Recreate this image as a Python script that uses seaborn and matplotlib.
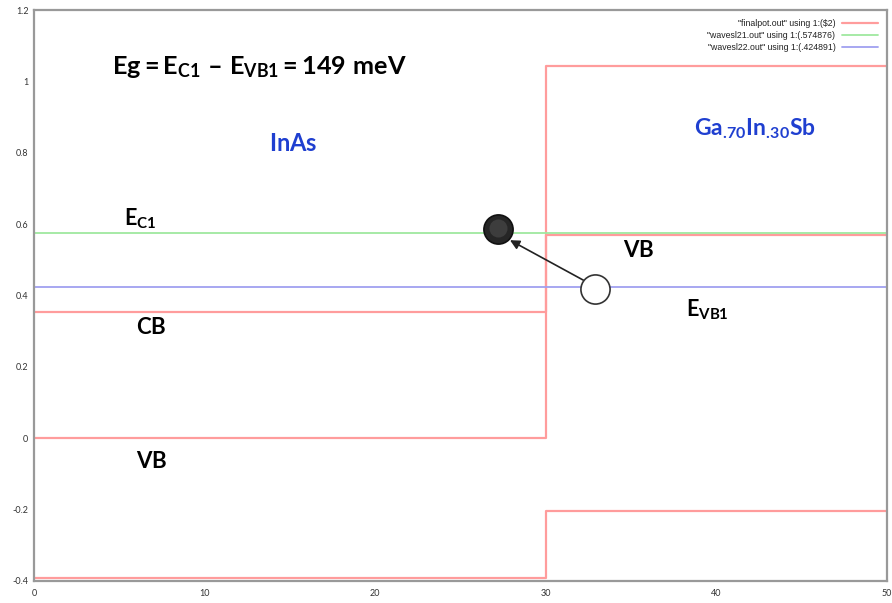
import numpy as np
import pandas as pd
import matplotlib
matplotlib.use("Agg")
import matplotlib.pyplot as plt
import seaborn as sns

# ---- data ----
pot_x = [0, 30, 30, 50, 0, 30, 30, 50, 0, 30, 30, 50]
pot_y = [0.355, 0.355, 1.042, 1.042, 0.0, 0.0, 0.57, 0.57, -0.392, -0.392, -0.205, -0.205]
pot_seg = [1, 1, 1, 1, 2, 2, 2, 2, 3, 3, 3, 3]
wave21_x = [0, 50]
wave21_y = [0.574876, 0.574876]
wave22_x = [0, 50]
wave22_y = [0.424891, 0.424891]
series_labels = ['"finalpot.out" using 1:($2)',
                 '"wavesl21.out" using 1:(.574876)',
                 '"wavesl22.out" using 1:(.424891)']
x_ticks = [0, 10, 20, 30, 40, 50]
y_ticks = [-0.4, -0.2, 0, 0.2, 0.4, 0.6, 0.8, 1, 1.2]
y_ticklabels = ["-0.4", "-0.2", "0", "0.2", "0.4", "0.6", "0.8", "1", "1.2"]
electron_xy = (27.2, 0.585)
hole_xy = (32.9, 0.417)

sns.set_theme(style="white")
plt.rcParams['font.family'] = ['Lato', 'DejaVu Sans']
plt.rcParams['mathtext.fontset'] = 'custom'
plt.rcParams['mathtext.rm'] = 'Lato:bold'
plt.rcParams['mathtext.bf'] = 'Lato:bold'
plt.rcParams['mathtext.it'] = 'Lato:bold'
plt.rcParams['mathtext.default'] = 'bf'

fig = plt.figure(figsize=(8.92, 6.03), dpi=100)
ax = fig.add_axes([34/892, 22/603, 853/892, 571/603])

pot_df = pd.DataFrame({"x": pot_x, "y": pot_y, "seg": pot_seg})
sns.lineplot(data=pot_df, x="x", y="y", units="seg", estimator=None, sort=False,
             color="#ff9c9c", lw=1.6, ax=ax, label=series_labels[0])
sns.lineplot(x=wave21_x, y=wave21_y, color="#9fe89f", lw=1.3, ax=ax, label=series_labels[1])
sns.lineplot(x=wave22_x, y=wave22_y, color="#a0a0f0", lw=1.3, ax=ax, label=series_labels[2])

ax.set_xlim(0, 50)
ax.set_ylim(-0.4, 1.2)
ax.set_xticks(x_ticks)
ax.set_xticklabels([str(t) for t in x_ticks])
ax.set_yticks(y_ticks)
ax.set_yticklabels(y_ticklabels)
ax.set_xlabel("")
ax.set_ylabel("")
ax.tick_params(axis="both", direction="in", length=4, width=0.8, color="#777777",
               labelsize=6.5, labelcolor="#333333", pad=4)
ax.tick_params(axis="x", pad=6)
for s in ax.spines.values():
    s.set_color("#999999")
    s.set_linewidth(1.6)

handles, labels = ax.get_legend_handles_labels()
uh, ul = [], []
for h, l in zip(handles, labels):
    if l not in ul:
        uh.append(h)
        ul.append(l)
leg = ax.legend(uh, ul, loc="upper right", frameon=False, markerfirst=False, fontsize=6.3,
                handlelength=4.2, handletextpad=0.7, labelspacing=0.35,
                borderaxespad=0.3, bbox_to_anchor=(0.997, 0.995))
for t in leg.get_texts():
    t.set_color("#222222")
    t.set_family(["Liberation Sans", "DejaVu Sans"])

# annotations
ax.text(4.6, 1.04, "$Eg=E_{C1}\\ \u2013\\ E_{VB1}=149\\ meV$", fontsize=18.2,
        color="black", va="center", ha="left")
ax.text(13.8, 0.825, r"$InAs$", fontsize=17, color="#1f3fd0", va="center", ha="left")
ax.text(38.7, 0.866, r"$Ga_{.\!70}In_{.\!30}Sb$", fontsize=16.5, color="#1f3fd0",
        va="center", ha="left")
ax.text(5.3, 0.615, r"$E_{C1}$", fontsize=15.5, color="black", va="center", ha="left")
ax.text(6.0, 0.31, r"$CB$", fontsize=16, color="black", va="center", ha="left")
ax.text(6.0, -0.065, r"$VB$", fontsize=16, color="black", va="center", ha="left")
ax.text(34.5, 0.525, r"$VB$", fontsize=16, color="black", va="center", ha="left")
ax.text(38.2, 0.36, r"$E_{VB1}$", fontsize=15.5, color="black", va="center", ha="left")

# arrow from hole to electron
ax.annotate("", xy=(27.9, 0.555), xytext=(32.2, 0.443),
            arrowprops=dict(arrowstyle="-|>", color="#222222", lw=1.2,
                            mutation_scale=14, shrinkA=0, shrinkB=0))
# circles
ax.plot([electron_xy[0]], [electron_xy[1]], marker="o", markersize=21,
        markerfacecolor="#262626", markeredgecolor="#111111", markeredgewidth=1.2, zorder=5)
ax.plot([electron_xy[0]], [electron_xy[1] + 0.004], marker="o", markersize=13,
        markerfacecolor="#555555", markeredgecolor="none", alpha=0.5, zorder=6)
ax.plot([hole_xy[0]], [hole_xy[1]], marker="o", markersize=21,
        markerfacecolor="white", markeredgecolor="#333333", markeredgewidth=1.2, zorder=5)

fig.savefig("out.png", dpi=100)
